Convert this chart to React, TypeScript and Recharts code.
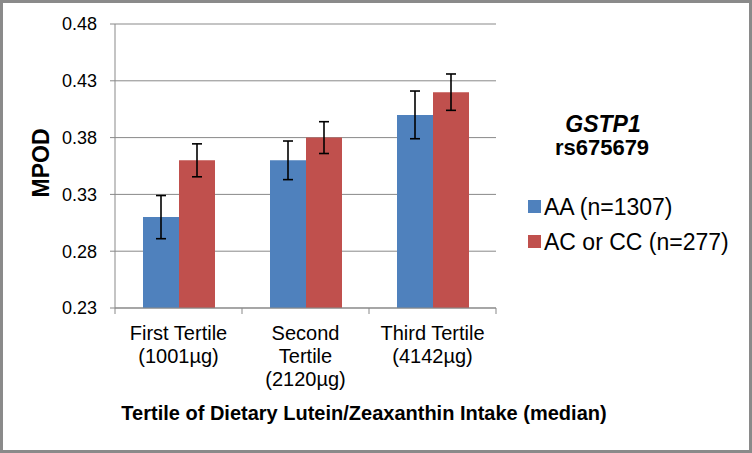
import React from 'react';
import { BarChart, Bar, XAxis, YAxis, CartesianGrid, ErrorBar, Legend } from 'recharts';

const tertiles = ['First Tertile (1001µg)', 'Second Tertile (2120µg)', 'Third Tertile (4142µg)'];
const tertileLines = [
  ['First Tertile', '(1001µg)'],
  ['Second', 'Tertile', '(2120µg)'],
  ['Third Tertile', '(4142µg)'],
];
const aaMean = [0.31, 0.36, 0.40];
const aaErr = [0.019, 0.017, 0.021];
const acMean = [0.36, 0.38, 0.42];
const acErr = [0.0145, 0.014, 0.016];
const yTicks = [0.23, 0.28, 0.33, 0.38, 0.43, 0.48];
const seriesNames = ['AA (n=1307)', 'AC or CC (n=277)'];
const seriesColors = ['#4f81bd', '#c0504d'];

const FONT = '"Liberation Sans", Arial, sans-serif';
const GRAY = '#898989';

const data = tertiles.map((name, i) => ({
  name,
  aa: aaMean[i],
  aaErr: aaErr[i],
  ac: acMean[i],
  acErr: acErr[i],
}));

const CategoryTick = ({ x, y, payload, index, visibleTicksCount }: any) => {
  const half = payload?.offset || 63.5;
  const lines = tertileLines[index] || [String(payload.value)];
  const last = index === (visibleTicksCount ?? tertiles.length) - 1;
  return (
    <g>
      <line x1={x - half} y1={y} x2={x - half} y2={y + 6} stroke={GRAY} />
      {last && <line x1={x + half} y1={y} x2={x + half} y2={y + 6} stroke={GRAY} />}
      {lines.map((t: string, k: number) => (
        <text
          key={k}
          x={x}
          y={y + 32 + k * 23}
          textAnchor="middle"
          fontSize={20}
          fontFamily={FONT}
          fill="#000"
        >
          {t}
        </text>
      ))}
    </g>
  );
};

const YTitle = ({ viewBox }: any) => {
  const cx = viewBox.x + 41;
  const cy = viewBox.y + viewBox.height / 2 - 3;
  return (
    <text
      x={cx}
      y={cy}
      transform={`rotate(-90 ${cx} ${cy})`}
      textAnchor="middle"
      dominantBaseline="central"
      fontSize={23}
      fontWeight="bold"
      fontFamily={FONT}
      fill="#000"
    >
      MPOD
    </text>
  );
};

const XTitle = ({ viewBox }: any) => (
  <text
    x={364}
    y={viewBox.y + 112}
    textAnchor="middle"
    fontSize={20}
    fontWeight="bold"
    fontFamily={FONT}
    fill="#000"
  >
    Tertile of Dietary Lutein/Zeaxanthin Intake (median)
  </text>
);

const GenotypeLegend = ({ payload }: any) => {
  const items = payload && payload.length
    ? payload.map((p: any) => ({ label: p.value, color: p.color }))
    : seriesNames.map((label, i) => ({ label, color: seriesColors[i] }));
  return (
    <svg width={232} height={170} style={{ display: 'block' }}>
      <text x={83} y={32} textAnchor="middle" fontSize={23} fontWeight="bold" fontStyle="italic" fontFamily={FONT}>
        GSTP1
      </text>
      <text x={82} y={55} textAnchor="middle" fontSize={22} fontWeight="bold" fontFamily={FONT}>
        rs675679
      </text>
      {items.map((it: any, i: number) => (
        <g key={it.label}>
          <rect x={8} y={100 + i * 35} width={13} height={13} fill={it.color} />
          <text x={24} y={115 + i * 35} fontSize={23} fontFamily={FONT} fill="#000">
            {it.label}
          </text>
        </g>
      ))}
    </svg>
  );
};

export default function App() {
  return (
    <div style={{ position: 'absolute', left: 0, top: 0, width: 752, height: 453, background: '#fff' }}>
      <BarChart
        width={752}
        height={453}
        data={data}
        margin={{ top: 24, right: 256, bottom: 0, left: 0 }}
        barGap={0}
        barSize={36}
      >
        <CartesianGrid vertical={false} stroke={GRAY} strokeWidth={1} />
        <XAxis
          dataKey="name"
          height={145}
          axisLine={{ stroke: GRAY }}
          tickLine={false}
          tickSize={0}
          tickMargin={0}
          interval={0}
          tick={<CategoryTick />}
          label={<XTitle />}
        />
        <YAxis
          width={115}
          domain={[0.23, 0.48]}
          ticks={yTicks}
          allowDataOverflow
          tickFormatter={(v: number) => v.toFixed(2)}
          axisLine={{ stroke: GRAY }}
          tickLine={{ stroke: GRAY }}
          tickSize={5}
          tickMargin={13}
          tick={{ fill: '#000', fontSize: 18, fontFamily: FONT }}
          label={<YTitle />}
        />
        <Legend
          layout="horizontal"
          verticalAlign="middle"
          align="center"
          content={<GenotypeLegend />}
          wrapperStyle={{ left: 520, top: 100, width: 232, height: 170 }}
        />
        <Bar dataKey="aa" name={seriesNames[0]} fill={seriesColors[0]} isAnimationActive={false}>
          <ErrorBar dataKey="aaErr" width={5} stroke="#000" strokeWidth={1.6} />
        </Bar>
        <Bar dataKey="ac" name={seriesNames[1]} fill={seriesColors[1]} isAnimationActive={false}>
          <ErrorBar dataKey="acErr" width={5} stroke="#000" strokeWidth={1.6} />
        </Bar>
      </BarChart>
      <div
        style={{
          position: 'absolute',
          inset: 0,
          border: '3px solid #8a8a8a',
          boxSizing: 'border-box',
          pointerEvents: 'none',
        }}
      />
    </div>
  );
}
